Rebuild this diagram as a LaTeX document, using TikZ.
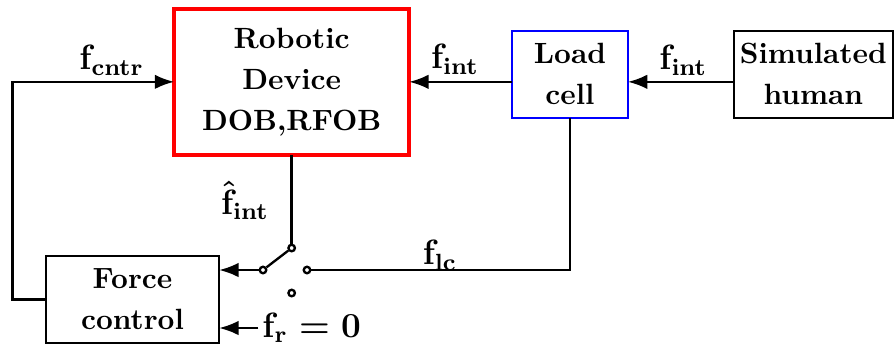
\documentclass[tikz,border=0pt]{standalone}
\usepackage{amsmath}
\usepackage{tikz}
\usetikzlibrary{arrows.meta}

\begin{document}
\begin{tikzpicture}[>=Latex,thick]
  \tikzset{blk/.style={draw,align=center,font=\bfseries,inner sep=1pt,outer sep=0pt},
    lbl/.style={font=\large\boldmath},
    sw/.style={circle,draw,fill=white,inner sep=0pt,minimum size=2.6mm*0.3}}
  \useasboundingbox (0,0) rectangle (10.74,4.212);

  % blocks
  \node[blk,draw=red,line width=1.4pt,minimum width=2.82cm,minimum height=1.75cm] (robot) at (3.50,3.23)
    {Robotic\\[2pt]Device\\[2pt]DOB,RFOB};
  \node[blk,draw=blue,semithick,minimum width=1.39cm,minimum height=1.04cm] (lc) at (6.84,3.32)
    {Load\\[2pt]cell};
  \node[blk,minimum width=1.91cm,minimum height=1.04cm] (sim) at (9.76,3.32)
    {Simulated\\[2pt]human};
  \node[blk,minimum width=2.08cm,minimum height=1.04cm] (fc) at (1.59,0.62)
    {Force\\[2pt]control};

  % switch contacts
  \node[sw] (s1) at (3.50,1.236) {};
  \node[sw] (s0) at (3.156,0.972) {};
  \node[sw] (s2) at (3.684,0.972) {};
  \node[sw] (s3) at (3.50,0.696) {};

  % signals
  \draw[->] (lc.west|-robot.east) -- (robot.east);
  \draw[->] (sim.west|-robot.east) -- (lc.east|-robot.east);
  \draw[->] (fc.west) -- ++(-0.40,0) |- (robot.west);
  \draw (robot.south) -- (s1);
  \draw (s0) -- (s1);
  \draw[->] (s0) -- (fc.east|-s0);
  \draw (lc.south) |- (s2);
  \node[lbl,anchor=west,inner sep=1pt] (fr) at (3.10,0.276) {$\mathbf{f}_{\mathbf{r}}=\mathbf{0}$};
  \draw[->] (fr.west) -- (fc.east|-fr.west);

  % labels
  \node[lbl] (lcntr) at (1.34,3.49) {$\mathbf{f}_{\mathbf{cntr}}$};
  \node[lbl] (lint1) at (5.46,3.50) {$\mathbf{f}_{\mathbf{int}}$};
  \node[lbl] (lint2) at (8.20,3.49) {$\mathbf{f}_{\mathbf{int}}$};
  \node[lbl] (lhat) at (2.94,1.81) {$\hat{\mathbf{f}}_{\mathbf{int}}$};
  \node[lbl] (llc) at (5.28,1.15) {$\mathbf{f}_{\mathbf{lc}}$};
\end{tikzpicture}
\end{document}
